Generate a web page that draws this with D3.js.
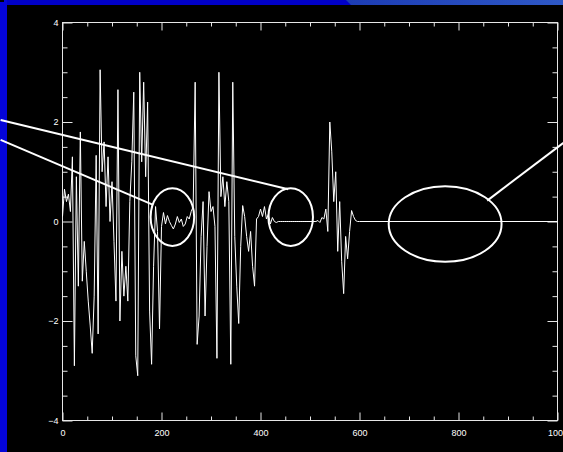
<!DOCTYPE html>
<html>
<head>
<meta charset="utf-8">
<script src="https://cdn.jsdelivr.net/npm/d3@7"></script>
<style>
  html, body { margin: 0; padding: 0; background: #000; overflow: hidden; }
  svg { display: block; }
  .axis text { fill: #fff; font-family: "Liberation Sans", Arial, sans-serif; font-size: 9px; }
  .axis line { stroke: #e6e6e6; }
  .axis path { display: none; }
</style>
</head>
<body>
<svg id="chart" width="563" height="452"></svg>
<script>
// signal sampled every 4 units from 0 to 600, flat at zero after that
const sampleStep = 4;
const signal = [
  0.1, 0.65, 0.4, 0.55, 0.2, 1.3, -2.9, 0.9, -1.3, 1.8,
  -1.2, -0.4, -1.0, -1.6, -2.1, -2.65, -1.5, 1.33, -2.26, 3.05,
  1.0, 1.6, 0.3, 1.3, 0.0, 0.8, -0.4, -1.6, 2.65, -2.0,
  -0.6, -1.5, -0.9, -1.6, 0.4, 1.2, 2.6, -2.7, -3.1, 3.0,
  1.2, 2.8, 0.9, 2.4, -1.8, -2.87, -0.9, 0.3, -0.2, -2.16,
  -0.1, 0.18, -0.05, 0.12, 0.0, -0.08, -0.15, -0.05, 0.1, -0.02,
  0.05, -0.1, -0.05, 0.1, 0.05, 0.2, 0.3, 2.8, -2.47, -1.9,
  -0.3, 0.4, -1.9, -0.5, 0.6, 0.2, 0.3, -0.1, -2.75, 3.0,
  0.5, 0.9, 0.3, 0.8, 0.4, -2.87, 2.8, -0.3, -1.3, -2.05,
  -0.5, 0.32, 0.1, -0.3, -0.6, -0.2, -0.9, -1.3, 0.05, 0.1,
  0.25, 0.1, 0.3, 0.05, 0.15, -0.05, 0.08, 0.0, -0.02, 0.0,
  0.0, 0.0, 0.0, 0.0, 0.0, 0.0, 0.0, 0.0, 0.0, 0.0,
  0.0, 0.0, 0.0, 0.0, 0.0, 0.0, 0.0, 0.0, 0.0, 0.02,
  -0.02, 0.08, 0.05, 0.25, -0.2, 2.0, 1.4, 0.4, 1.0, -0.6,
  0.4, -0.8, -1.45, -0.3, -0.75, -0.2, 0.22, 0.1, 0.02, 0.0,
  0.0
];
const signalEnd = 1000;

const xTicks = [0, 200, 400, 600, 800, 1000];
const xMinorTicks = [50, 100, 150, 250, 300, 350, 450, 500, 550, 650, 700, 750, 850, 900, 950];
const yTicks = [-4, -2, 0, 2, 4];
const yMinorTicks = [-3.5, -3, -2.5, -1.5, -1, -0.5, 0.5, 1, 1.5, 2.5, 3, 3.5];

// annotations in data units: ellipses [cx, cy, rx, ry], pointer lines [x1, y1, x2, y2]
const ellipses = [
  [222, 0.09, 44, 0.58],
  [461, 0.09, 45, 0.58],
  [773, -0.05, 114, 0.76]
];
const pointers = [
  [-125, 2.04, 456, 0.65],
  [-125, 1.64, 182, 0.34],
  [858, 0.42, 1012, 1.58]
];

const svg = d3.select("#chart");
const x = d3.scaleLinear().domain([0, 1000]).range([62.5, 557.5]);
const y = d3.scaleLinear().domain([-4, 4]).range([420.5, 22.5]);

svg.append("rect").attr("width", 563).attr("height", 452).attr("fill", "#000");

// slide decoration
const defs = svg.append("defs");
const grad = defs.append("linearGradient").attr("id", "topGrad");
grad.append("stop").attr("offset", "0%").attr("stop-color", "#1c3cb4");
grad.append("stop").attr("offset", "100%").attr("stop-color", "#2e58c6");
svg.append("rect").attr("x", 0).attr("y", 0).attr("width", 563).attr("height", 5).attr("fill", "#0000c8");
svg.append("polygon").attr("points", "346,0 563,0 563,5 351,5").attr("fill", "url(#topGrad)");
svg.append("rect").attr("x", 0).attr("y", 0).attr("width", 7).attr("height", 452).attr("fill", "#0404d8");
svg.append("rect").attr("x", 0).attr("y", 0).attr("width", 4).attr("height", 2).attr("fill", "#000");

// frame
svg.append("rect")
  .attr("x", x(0)).attr("y", y(4))
  .attr("width", x(1000) - x(0)).attr("height", y(-4) - y(4))
  .attr("fill", "none").attr("stroke", "#e6e6e6");

const fmt = d3.format("d");
function addAxis(axis, transform) {
  svg.append("g").attr("class", "axis").attr("transform", transform).call(axis);
}
addAxis(d3.axisBottom(x).tickValues(xTicks).tickSize(-8).tickPadding(9).tickFormat(fmt), `translate(0,${y(-4)})`);
addAxis(d3.axisBottom(x).tickValues(xMinorTicks).tickSize(-4).tickFormat(""), `translate(0,${y(-4)})`);
addAxis(d3.axisTop(x).tickValues(xTicks).tickSize(-8).tickFormat(""), `translate(0,${y(4)})`);
addAxis(d3.axisTop(x).tickValues(xMinorTicks).tickSize(-4).tickFormat(""), `translate(0,${y(4)})`);
addAxis(d3.axisLeft(y).tickValues(yTicks).tickSize(-10).tickPadding(4).tickFormat(fmt), `translate(${x(0)},0)`);
addAxis(d3.axisLeft(y).tickValues(yMinorTicks).tickSize(-5).tickFormat(""), `translate(${x(0)},0)`);
addAxis(d3.axisRight(y).tickValues(yTicks).tickSize(-10).tickFormat(""), `translate(${x(1000)},0)`);
addAxis(d3.axisRight(y).tickValues(yMinorTicks).tickSize(-5).tickFormat(""), `translate(${x(1000)},0)`);

// signal
const points = signal.map((v, i) => [i * sampleStep, v]);
points.push([signalEnd, 0]);
const line = d3.line().x((d) => x(d[0])).y((d) => y(d[1]));
svg.append("path")
  .datum(points)
  .attr("d", line)
  .attr("fill", "none")
  .attr("stroke", "#fff")
  .attr("stroke-width", 1);

// annotations
svg.selectAll("ellipse.note")
  .data(ellipses)
  .join("ellipse")
  .attr("class", "note")
  .attr("cx", (d) => x(d[0]))
  .attr("cy", (d) => y(d[1]))
  .attr("rx", (d) => x(d[2]) - x(0))
  .attr("ry", (d) => y(0) - y(d[3]))
  .attr("fill", "none")
  .attr("stroke", "#fff")
  .attr("stroke-width", 2);

svg.selectAll("line.note")
  .data(pointers)
  .join("line")
  .attr("class", "note")
  .attr("x1", (d) => x(d[0]))
  .attr("y1", (d) => y(d[1]))
  .attr("x2", (d) => x(d[2]))
  .attr("y2", (d) => y(d[3]))
  .attr("stroke", "#fff")
  .attr("stroke-width", 2);
</script>
</body>
</html>
